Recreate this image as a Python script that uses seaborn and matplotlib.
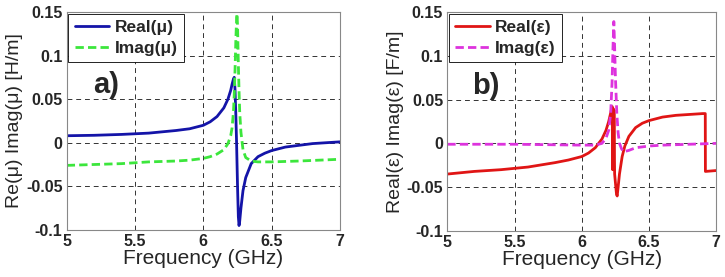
import seaborn as sns
from matplotlib import pyplot as plt

# values
freq_re_mu = [5.0, 5.2, 5.4, 5.6, 5.8, 5.9, 6.0, 6.05, 6.1, 6.15, 6.18, 6.2, 6.21, 6.22, 6.226,
              6.232, 6.238, 6.243, 6.25, 6.256, 6.261, 6.266, 6.275, 6.29, 6.31, 6.35, 6.4,
              6.45, 6.5, 6.6, 6.7, 6.8, 6.9, 7.0]
real_mu = [0.008, 0.0085, 0.0095, 0.011, 0.014, 0.016, 0.02, 0.024, 0.03, 0.04, 0.05, 0.06, 0.067,
           0.073, 0.075, 0.06, 0.03, 0.0, -0.05, -0.085, -0.095, -0.09, -0.075, -0.055, -0.04,
           -0.024, -0.016, -0.012, -0.009, -0.005, -0.003, -0.001, 0.0, 0.001]

freq_im_mu = [5.0, 5.2, 5.4, 5.6, 5.8, 5.9, 6.0, 6.05, 6.1, 6.15, 6.18, 6.2, 6.21, 6.22, 6.226,
              6.232, 6.238, 6.243, 6.246, 6.25, 6.256, 6.261, 6.266, 6.275, 6.29, 6.31, 6.35,
              6.4, 6.5, 6.7, 7.0]
imag_mu = [-0.026, -0.025, -0.024, -0.022, -0.021, -0.02, -0.018, -0.016, -0.013, -0.008, -0.001,
           0.008, 0.017, 0.035, 0.055, 0.085, 0.12, 0.14, 0.148, 0.135, 0.09, 0.06, 0.035, 0.012,
           -0.008, -0.017, -0.021, -0.022, -0.022, -0.021, -0.019]

freq_re_eps = [5.0, 5.2, 5.4, 5.6, 5.8, 5.9, 6.0, 6.05, 6.1, 6.15, 6.18, 6.2, 6.215, 6.226, 6.229,
               6.232, 6.236, 6.239, 6.244, 6.25, 6.258, 6.263, 6.27, 6.28, 6.3, 6.32, 6.35, 6.4,
               6.45, 6.5, 6.6, 6.7, 6.8, 6.9, 6.918, 6.919, 7.0]
real_eps = [-0.035, -0.032, -0.03, -0.027, -0.022, -0.019, -0.015, -0.011, -0.005, 0.005, 0.015,
            0.025, 0.035, 0.042, -0.03, 0.04, -0.03, 0.038, -0.035, -0.045, -0.058, -0.06, -0.05,
            -0.035, -0.015, -0.003, 0.008, 0.018, 0.023, 0.026, 0.03, 0.032, 0.033, 0.034, 0.034,
            -0.032, -0.031]

freq_im_eps = [5.0, 5.5, 6.0, 6.1, 6.15, 6.18, 6.2, 6.215, 6.225, 6.232, 6.238, 6.244, 6.25,
               6.26, 6.27, 6.28, 6.295, 6.31, 6.35, 6.4, 6.5, 6.6, 6.8, 7.0]
imag_eps = [-0.001, -0.001, -0.002, -0.002, 0.0, 0.006, 0.015, 0.035, 0.07, 0.11, 0.139, 0.11,
            0.075, 0.035, 0.012, 0.0, -0.006, -0.0096, -0.008, -0.005, -0.003, -0.002, -0.001, 0.0]

x_ticks = [5, 5.5, 6, 6.5, 7]
x_labels = ['5', '5.5', '6', '6.5', '7']
y_ticks = [-0.1, -0.05, 0, 0.05, 0.1, 0.15]
y_labels = ['-0.1', '-0.05', '0', '0.05', '0.1', '0.15']

sns.set_style('white')
plt.rcParams['font.family'] = ['Liberation Sans', 'DejaVu Sans']

fig = plt.figure(figsize=(7.25, 2.77), dpi=100)
ax1 = fig.add_axes([0.092, 0.170, 0.377, 0.787])
ax2 = fig.add_axes([0.617, 0.166, 0.371, 0.791])

panels = [
    (ax1, freq_re_mu, real_mu, 'Real(μ)', '#1414a8',
     freq_im_mu, imag_mu, 'Imag(μ)', '#3ce63c', 'Re(μ) Imag(μ) [H/m]', 'a)'),
    (ax2, freq_re_eps, real_eps, 'Real(ε)', '#e01515',
     freq_im_eps, imag_eps, 'Imag(ε)', '#dd33dd', 'Real(ε) Imag(ε) [F/m]', 'b)'),
]

for (ax, fr, re, lab_r, col_r, fi, im, lab_i, col_i, ylab, tag) in panels:
    sns.lineplot(x=fr, y=re, ax=ax, color=col_r, lw=2, label=lab_r, estimator=None, sort=False)
    sns.lineplot(x=fi, y=im, ax=ax, color=col_i, lw=2, ls=(0, (3, 1.5)), label=lab_i,
                 estimator=None, sort=False)
    ax.set_xlim(5, 7)
    ax.set_ylim(-0.1, 0.15)
    ax.set_xticks(x_ticks)
    ax.set_xticklabels(x_labels, fontsize=11.5, fontweight='bold')
    ax.set_yticks(y_ticks)
    ax.set_yticklabels(y_labels, fontsize=11.5, fontweight='bold')
    ax.tick_params(axis='both', length=0, pad=3)
    ax.grid(True, color='#333333', ls=(0, (5, 4)), lw=0.7)
    for s in ax.spines.values():
        s.set_color('#888888')
        s.set_linewidth(0.8)
    ax.set_xlabel('Frequency (GHz)', fontsize=15, labelpad=0)
    ax.set_ylabel(ylab, fontsize=14, labelpad=2)
    ax.text(5.29, 0.066, tag, fontsize=21, fontweight='bold', ha='center', va='center')
    leg = ax.legend(loc='upper left', bbox_to_anchor=(0, 1), borderaxespad=0.1,
                    fancybox=False, framealpha=1, edgecolor='black',
                    prop={'weight': 'bold', 'size': 12.5}, handlelength=2.0,
                    handletextpad=0.3, labelspacing=0.35, borderpad=0.35)
    leg.get_frame().set_linewidth(0.6)

fig.savefig('out.png', dpi=100)
